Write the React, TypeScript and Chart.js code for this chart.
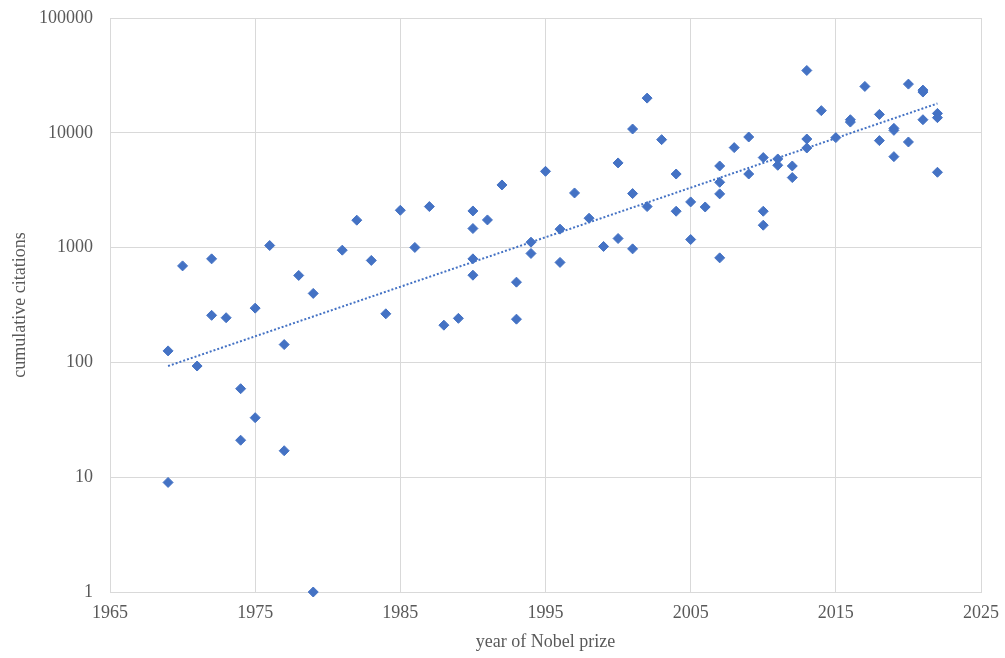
import React, { useEffect, useRef } from "react";
import { Chart, registerables } from "chart.js";

Chart.register(...registerables);

const years = [
  1969, 1969, 1970, 1971, 1972, 1972, 1973, 1974, 1974, 1975, 1975, 1976, 1977, 1977, 1978, 1979, 1979,
  1981, 1982, 1983, 1984, 1985, 1986, 1987, 1988, 1989, 1990, 1990, 1990, 1990, 1991, 1992, 1993, 1993,
  1994, 1994, 1995, 1996, 1996, 1997, 1998, 1999, 2000, 2000, 2001, 2001, 2001, 2002, 2002, 2003,
  2004, 2004, 2005, 2005, 2006, 2007, 2007, 2007, 2007, 2008, 2009, 2009, 2010, 2010, 2010, 2011, 2011,
  2012, 2012, 2013, 2013, 2013, 2014, 2015, 2016, 2016, 2017, 2018, 2018, 2019, 2019, 2019, 2020, 2020,
  2021, 2021, 2021, 2022, 2022, 2022,
];

const citations = [
  126, 9, 693, 93, 798, 257, 245, 59, 21, 297, 33, 1043, 143, 17, 572, 399, 1,
  950, 1733, 773, 265, 2115, 1003, 2278, 211, 242, 2085, 1466, 798, 575, 1742, 3513, 500, 238,
  1115, 889, 4616, 1448, 743, 2992, 1803, 1023, 5464, 1200, 10790, 2956, 975, 20050, 2278, 8716,
  4375, 2074, 2500, 1176, 2259, 5140, 3706, 2937, 814, 7430, 9190, 4375, 6084, 2074, 1567, 5918, 5212,
  5140, 4074, 34900, 8830, 7370, 15600, 9080, 13000, 12400, 25350, 14460, 8550, 10930, 10500, 6200, 26550, 8320,
  23550, 22640, 13000, 14760, 13550, 4530,
];

// trendline endpoints
const trendYears = [1969, 2022];
const trendValues = [93, 18000];

const xTicks = [1965, 1975, 1985, 1995, 2005, 2015, 2025];
const yTicks = [1, 10, 100, 1000, 10000, 100000];

const BLUE = "#4472C4";
const GRID = "#d9d9d9";
const TEXT = "#595959";
const FONT = "'Liberation Serif', 'Times New Roman', serif";

export default function App() {
  const ref = useRef<HTMLCanvasElement | null>(null);

  useEffect(() => {
    if (!ref.current) return;
    const chart = new Chart(ref.current, {
      type: "scatter",
      data: {
        datasets: [
          {
            label: "citations",
            data: years.map((y, i) => ({ x: y, y: citations[i] })),
            backgroundColor: BLUE,
            borderColor: BLUE,
            borderWidth: 1,
            pointStyle: "rectRot",
            pointRadius: 5,
            clip: false,
          } as any,
          {
            type: "line",
            label: "trend",
            data: trendYears.map((y, i) => ({ x: y, y: trendValues[i] })),
            borderColor: BLUE,
            borderWidth: 2,
            borderDash: [2, 2],
            pointRadius: 0,
            fill: false,
          } as any,
        ],
      },
      options: {
        responsive: false,
        animation: false,
        layout: { padding: { left: 0, top: 18, right: 24, bottom: 0 } },
        plugins: { legend: { display: false }, tooltip: { enabled: false } },
        scales: {
          x: {
            type: "linear",
            min: 1965,
            max: 2025,
            afterBuildTicks: (s: any) => {
              s.ticks = xTicks.map((v) => ({ value: v }));
            },
            afterFit: (s: any) => {
              s.height = 66;
              s.paddingLeft = 0;
              s.paddingRight = 0;
            },
            grid: { color: GRID, lineWidth: 1, drawTicks: false },
            border: { color: GRID },
            ticks: {
              color: TEXT,
              font: { family: FONT, size: 18 },
              padding: 10,
              maxRotation: 0,
              autoSkip: false,
              callback: (v: any) => String(v),
            },
            title: {
              display: true,
              text: "year of Nobel prize",
              color: TEXT,
              font: { family: FONT, size: 18 },
              padding: { top: 5, bottom: 5 },
            },
          },
          y: {
            type: "logarithmic",
            min: 1,
            max: 100000,
            afterBuildTicks: (s: any) => {
              s.ticks = yTicks.map((v) => ({ value: v }));
            },
            afterFit: (s: any) => {
              s.width = 110;
              s.paddingTop = 0;
              s.paddingBottom = 0;
            },
            grid: { color: GRID, lineWidth: 1, drawTicks: false },
            border: { color: GRID },
            ticks: {
              color: TEXT,
              font: { family: FONT, size: 18 },
              padding: 17,
              autoSkip: false,
              callback: (v: any) => String(v),
            },
            title: {
              display: true,
              text: "cumulative citations",
              color: TEXT,
              font: { family: FONT, size: 18 },
              padding: { top: 9, bottom: 9 },
            },
          },
        },
      },
    });
    return () => chart.destroy();
  }, []);

  return (
    <div style={{ position: "fixed", left: 0, top: 0, width: 1005, height: 658, background: "#fff" }}>
      <canvas ref={ref} width={1005} height={658} style={{ display: "block" }} />
    </div>
  );
}
